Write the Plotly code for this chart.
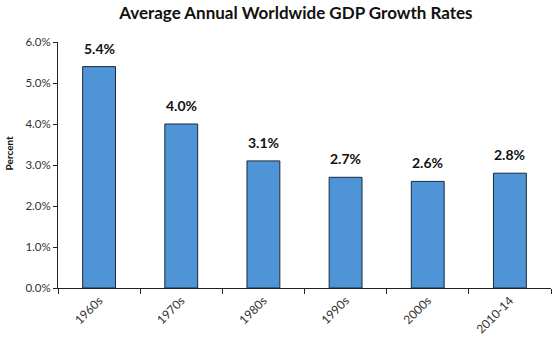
import plotly.graph_objects as go

decades = ["1960s", "1970s", "1980s", "1990s", "2000s", "2010-14"]
growth_pct = [5.4, 4.0, 3.1, 2.7, 2.6, 2.8]
y_ticks = [0, 1, 2, 3, 4, 5, 6]
y_tick_labels = ["0.0%", "1.0%", "2.0%", "3.0%", "4.0%", "5.0%", "6.0%"]

font_family = "Lato, Carlito, 'Open Sans', sans-serif"

fig = go.Figure(
    go.Bar(
        x=decades,
        y=growth_pct,
        marker=dict(color="#4F94D6", line=dict(color="#1c2a3a", width=1)),
        cliponaxis=False,
    )
)

# Value labels above each bar
for d, v in zip(decades, growth_pct):
    fig.add_annotation(
        x=d,
        y=v,
        xref="x",
        yref="y",
        text=f"<b>{v:.1f}%</b>",
        showarrow=False,
        yanchor="bottom",
        yshift=8,
        font=dict(family=font_family, size=14, color="#111111"),
    )

# Y-axis caption, placed in the left margin
fig.add_annotation(
    x=-0.1,
    y=0.55,
    xref="paper",
    yref="paper",
    text="<b>Percent</b>",
    showarrow=False,
    textangle=-90,
    xanchor="center",
    yanchor="middle",
    font=dict(family=font_family, size=10, color="#111111"),
)

fig.update_layout(
    width=553,
    height=338,
    margin=dict(l=58, r=2, t=42, b=48),
    paper_bgcolor="white",
    plot_bgcolor="white",
    bargap=0.6,
    showlegend=False,
    title=dict(
        text="<b>Average Annual Worldwide GDP Growth Rates</b>",
        x=0.535,
        xanchor="center",
        y=0.962,
        yanchor="middle",
        font=dict(family=font_family, size=17, color="#111111"),
    ),
    font=dict(family=font_family, color="#404040"),
)

fig.update_xaxes(
    type="category",
    showline=True,
    linecolor="#222222",
    linewidth=1,
    ticks="outside",
    tickson="boundaries",
    ticklen=5,
    tickcolor="#222222",
    tickangle=-45,
    tickfont=dict(family=font_family, size=12, color="#333333"),
    showgrid=False,
)

fig.update_yaxes(
    range=[0, 6],
    tickvals=y_ticks,
    ticktext=y_tick_labels,
    showline=True,
    linecolor="#222222",
    linewidth=1,
    ticks="outside",
    ticklen=4,
    tickcolor="#222222",
    tickfont=dict(family=font_family, size=11.5, color="#333333"),
    showgrid=False,
    zeroline=False,
)

fig.write_html("out.html")
